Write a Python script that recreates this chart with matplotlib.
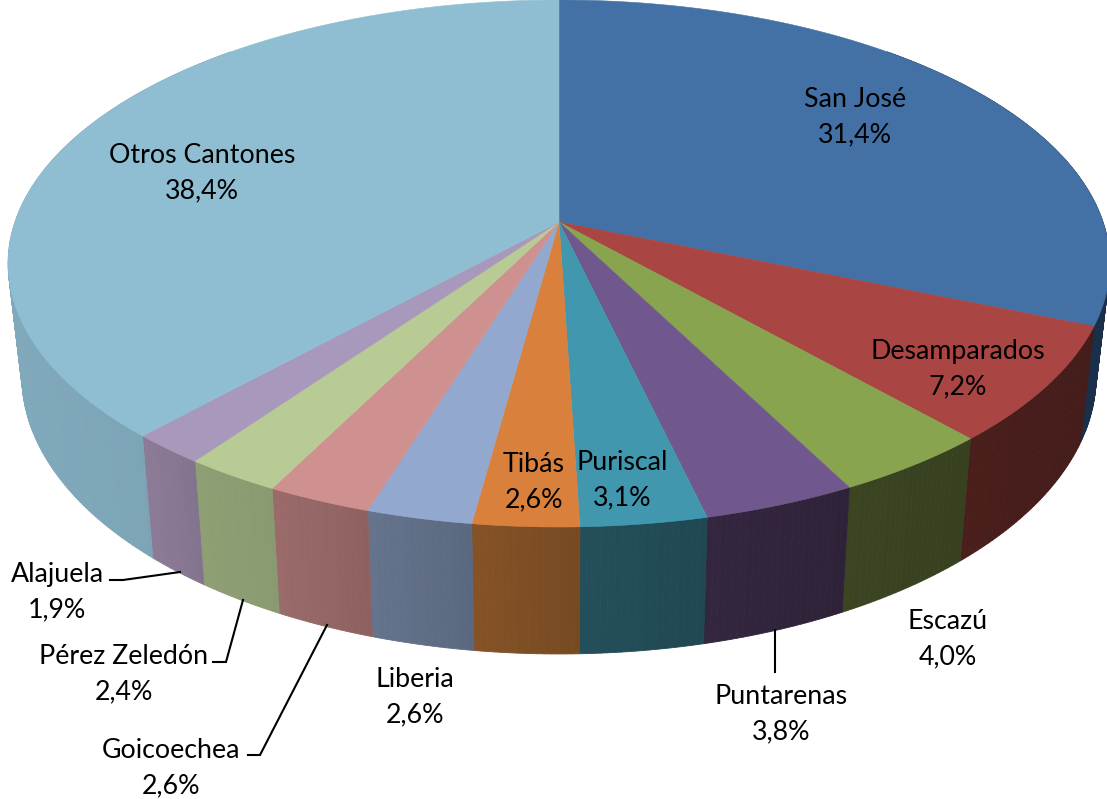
import numpy as np
import matplotlib
matplotlib.use("Agg")
import matplotlib.pyplot as plt
from matplotlib.colors import to_rgb

names = ["San José", "Desamparados", "Escazú", "Puntarenas", "Puriscal", "Tibás",
         "Liberia", "Goicoechea", "Pérez Zeledón", "Alajuela", "Otros Cantones"]
shares = [31.4, 7.2, 4.0, 3.8, 3.1, 2.6, 2.6, 2.6, 2.4, 1.9, 38.4]
shown = ["31,4%", "7,2%", "4,0%", "3,8%", "3,1%", "2,6%", "2,6%", "2,6%", "2,4%", "1,9%", "38,4%"]
top_colors = ["#4471a5", "#a94543", "#88a44e", "#70588e", "#4097ae", "#d9813c",
              "#92a8ce", "#cf9190", "#b8cb94", "#a898bb", "#8fbed2"]
side_left = ["#1c3450", "#4a1e1b", "#3c4522", "#33263f", "#234f5b", "#855226",
             "#65748c", "#9a6b6a", "#8f9f74", "#8c7b97", "#80a9bb"]
side_right = ["#1a304a", "#431c1a", "#37401f", "#2e2238", "#204852", "#764a22",
              "#5a6880", "#8e6160", "#899a70", "#83748e", "#7096a6"]
label_pos = [(855, 117), (958, 369), (948, 639), (781, 714), (622, 480), (534, 482),
             (415, 697), (171, 768), (124, 674), (57, 592), (202, 173)]
leaders = {"Alajuela": ([110, 123, 180], [580, 580, 572]),
           "Pérez Zeledón": ([213, 226, 243], [662, 662, 600]),
           "Goicoechea": ([248, 260, 327], [755, 755, 625]),
           "Puntarenas": ([775, 775], [630, 672])}

# perspective model of the pie
CX, APEX_Y, FAR, RX, WARP = 559.0, 222.0, -0.1575, 544.0, 0.015
SIDE_X, SIDE_SY, SIDE_DY = 0.975, 1.054, 98.5


def rim(theta):
    t = theta + WARP * np.sin(2 * theta)
    X, Y = np.sin(t), -np.cos(t)
    w = 1 + FAR * Y
    return CX + RX * X / w, APEX_Y * (1 + Y) / w


def lower(x, y):
    return CX + SIDE_X * (x - CX), SIDE_SY * y + SIDE_DY


fig = plt.figure(figsize=(11.07, 7.99), dpi=100)
ax = fig.add_axes([0, 0, 1, 1])
ax.set_xlim(0, 1107)
ax.set_ylim(799, 0)
ax.axis("off")

edges = np.cumsum([0] + shares) / sum(shares) * 2 * np.pi

# walls
for i in range(len(shares)):
    n = max(8, int(shares[i] * 6))
    th = np.linspace(edges[i], edges[i + 1], n + 1)
    x, y = rim(th)
    xb, yb = lower(x, y)
    l, r = np.array(to_rgb(side_left[i])), np.array(to_rgb(side_right[i]))
    xmin, xmax = x.min(), x.max()
    for k in range(n):
        if np.cos((th[k] + th[k + 1]) / 2) > 0.75:
            continue
        f = ((x[k] + x[k + 1]) / 2 - xmin) / max(xmax - xmin, 1)
        c = l + (r - l) * f
        ax.fill([x[k], x[k + 1], xb[k + 1], xb[k]], [y[k], y[k + 1], yb[k + 1], yb[k]],
                facecolor=c, edgecolor=c, lw=0.6, zorder=2)

# top face
for i in range(len(shares)):
    th = np.linspace(edges[i], edges[i + 1], max(12, int(shares[i] * 6)))
    x, y = rim(th)
    ax.fill(np.r_[CX, x], np.r_[APEX_Y, y], facecolor=top_colors[i],
            edgecolor=top_colors[i], lw=0.4, zorder=3)

for name, (lx, ly) in leaders.items():
    ax.plot(lx, ly, color="black", lw=1.5, zorder=4, solid_joinstyle="miter")

for name, val, (px, py) in zip(names, shown, label_pos):
    ax.text(px, py, f"{name}\n{val}", ha="center", va="center", fontsize=19.3,
            family="Lato", color="black", linespacing=1.52, zorder=5)

fig.savefig("out.png", dpi=100)
